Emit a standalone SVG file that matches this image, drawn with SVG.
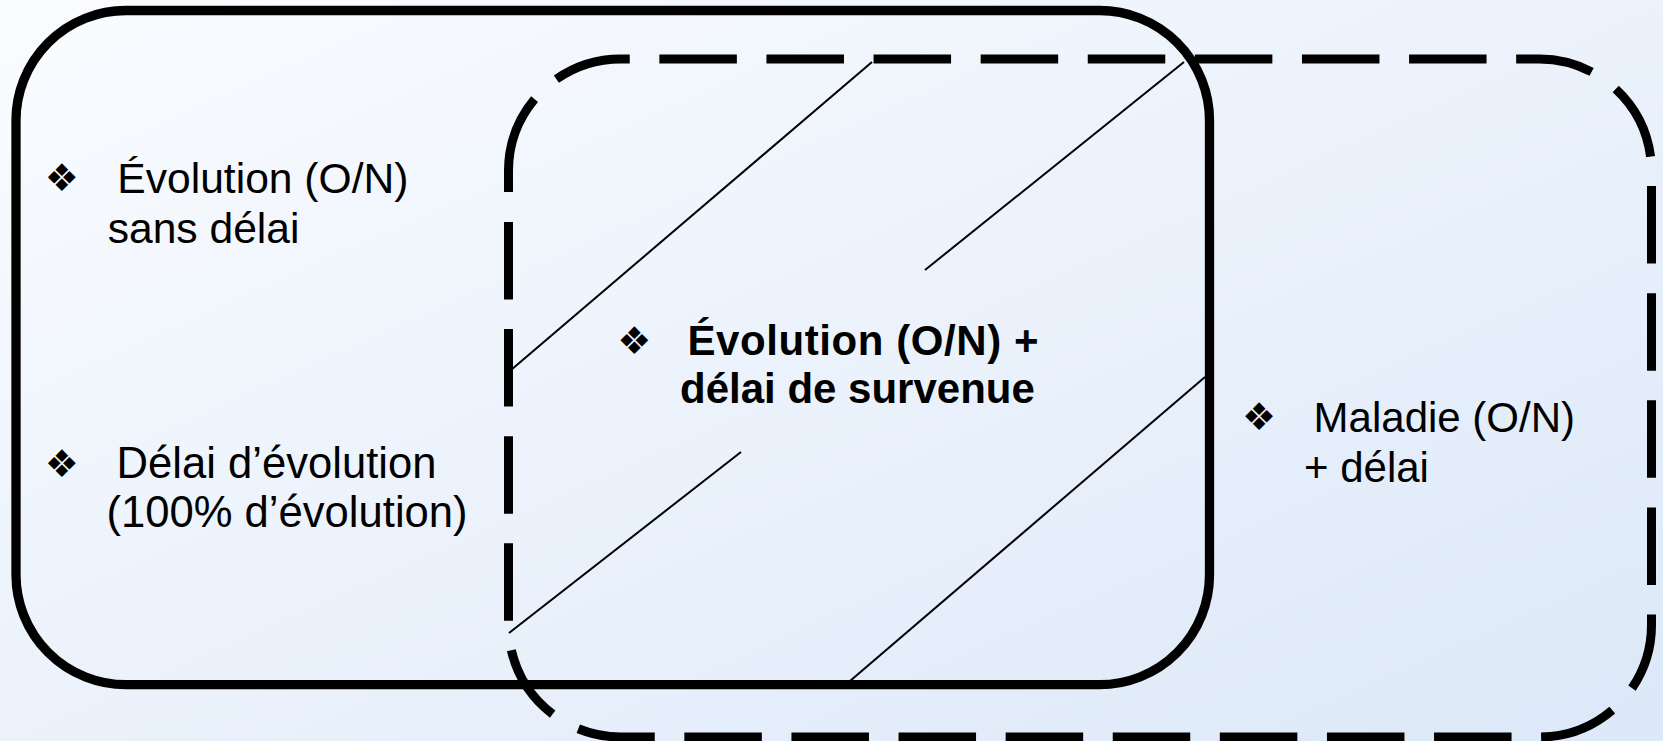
<svg xmlns="http://www.w3.org/2000/svg" width="1663" height="741" viewBox="0 0 1663 741">
<defs>
<linearGradient id="bg" x1="0" y1="0" x2="1" y2="1">
<stop offset="0" stop-color="#fafcff"/>
<stop offset="1" stop-color="#dce8f8"/>
</linearGradient>
<style>
.solid{fill:none;stroke:#000;stroke-width:9.3}
.dash{fill:none;stroke:#000;stroke-width:9;stroke-dasharray:77.5 29.6;stroke-linecap:butt}
.hatch{stroke:#000;stroke-width:2;fill:none}
.t{font-family:"Liberation Sans",Arial,sans-serif;font-size:42px;fill:#000}
.b{font-weight:bold}
.bul{font-family:"DejaVu Sans",sans-serif;font-size:38px;fill:#000;text-anchor:middle}
</style>
</defs>
<rect x="0" y="0" width="1663" height="741" fill="url(#bg)"/>
<g id="hatching">
<line class="hatch" x1="872" y1="62" x2="511" y2="370"/>
<line class="hatch" x1="1184" y1="62" x2="925" y2="270"/>
<line class="hatch" x1="741" y1="452" x2="509" y2="633"/>
<line class="hatch" x1="1205" y1="377" x2="850" y2="681"/>
</g>
<g id="evolution-box">
<rect class="solid" x="16" y="10.5" width="1193.5" height="674.2" rx="110" ry="110"/>
<text class="bul" x="61.7" y="190.9">❖</text>
<text class="t" x="117.3" y="193.3" style="font-size:42.6px">Évolution (O/N)</text>
<text class="t" x="107.7" y="243.3" style="font-size:42.6px">sans délai</text>
<text class="bul" x="61.7" y="476.9">❖</text>
<text class="t" x="116.6" y="478.3" style="font-size:43.6px">Délai d’évolution</text>
<text class="t" x="106.5" y="527.3" style="font-size:43.6px">(100% d’évolution)</text>
</g>
<g id="maladie-box">
<path class="dash" d="M508.5,222 V625 A112,112 0 0 0 620.5,737 H1539.5 A112,112 0 0 0 1651.5,625 V171 A112,112 0 0 0 1539.5,59 H620.5 A112,112 0 0 0 508.5,171 V192"/>
<path class="dash" style="stroke-dasharray:none" d="M508.5,170 V192"/>
<text class="bul" x="1259" y="430.1">❖</text>
<text class="t" x="1313.6" y="431.7">Maladie (O/N)</text>
<text class="t" x="1304" y="481.7">+ délai</text>
</g>
<g id="intersection">
<text class="bul" x="634.3" y="353.9">❖</text>
<text class="t b" x="687.5" y="355" textLength="351" lengthAdjust="spacing">Évolution (O/N) +</text>
<text class="t b" x="680" y="403.3">délai de survenue</text>
</g>
</svg>
